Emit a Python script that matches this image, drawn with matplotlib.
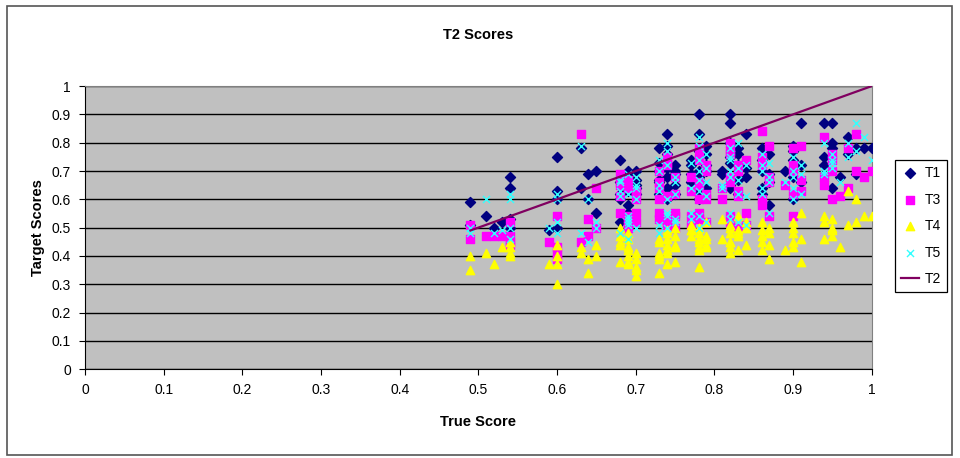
import matplotlib
matplotlib.use("Agg")
import matplotlib.pyplot as plt
from matplotlib.patches import Rectangle

plt.rcParams['font.family'] = ['Liberation Sans', 'DejaVu Sans']

# one row per subject: true score and the four target scores
true_score = [
    0.49, 0.49, 0.51, 0.52, 0.53, 0.54, 0.54, 0.54, 0.54,
    0.60, 0.60, 0.60, 0.59, 0.60,
    0.63, 0.64, 0.65, 0.64, 0.65, 0.63,
    0.68, 0.69, 0.70, 0.68, 0.69, 0.70, 0.69, 0.68, 0.70, 0.69,
    0.69, 0.70, 0.68, 0.69, 0.70, 0.69, 0.68,
    0.74, 0.74, 0.73, 0.73, 0.75, 0.73, 0.75, 0.74, 0.74, 0.75, 0.73,
    0.74, 0.75, 0.73, 0.74, 0.75, 0.74, 0.73,
    0.78, 0.78, 0.79, 0.77, 0.78, 0.79, 0.78, 0.77, 0.79, 0.78,
    0.78, 0.79, 0.78, 0.77, 0.79, 0.78, 0.77,
    0.82, 0.82, 0.84, 0.83, 0.82, 0.83, 0.81, 0.84, 0.82, 0.83,
    0.82, 0.83, 0.82, 0.81, 0.83, 0.82, 0.84,
    0.86, 0.87, 0.86, 0.87, 0.86, 0.87, 0.86, 0.87, 0.86,
    0.91, 0.90, 0.90, 0.89, 0.91, 0.90, 0.90, 0.91, 0.90,
    0.94, 0.95, 0.95, 0.94, 0.96, 0.95, 0.95, 0.94,
    0.97, 0.98, 0.97, 0.99, 0.98, 1.00,
]
t1 = [
    0.59, 0.51, 0.54, 0.50, 0.52, 0.68, 0.64, 0.53, 0.50,
    0.75, 0.63, 0.60, 0.49, 0.50,
    0.78, 0.69, 0.70, 0.60, 0.55, 0.64,
    0.74, 0.69, 0.70, 0.60, 0.55, 0.64, 0.66, 0.52, 0.62, 0.68,
    0.70, 0.65, 0.62, 0.58, 0.67, 0.63, 0.66,
    0.83, 0.79, 0.78, 0.73, 0.70, 0.70, 0.65, 0.60, 0.68, 0.62, 0.66,
    0.76, 0.72, 0.67, 0.64, 0.69, 0.71, 0.62,
    0.90, 0.83, 0.79, 0.74, 0.70, 0.76, 0.67, 0.72, 0.64, 0.60,
    0.77, 0.72, 0.68, 0.66, 0.70, 0.63, 0.69,
    0.90, 0.87, 0.83, 0.78, 0.75, 0.72, 0.70, 0.68, 0.65, 0.62,
    0.80, 0.76, 0.73, 0.69, 0.67, 0.64, 0.71,
    0.78, 0.76, 0.70, 0.66, 0.62, 0.58, 0.74, 0.69, 0.64,
    0.87, 0.79, 0.74, 0.70, 0.66, 0.60, 0.77, 0.72, 0.68,
    0.87, 0.87, 0.78, 0.72, 0.68, 0.64, 0.80, 0.75,
    0.82, 0.78, 0.76, 0.78, 0.69, 0.78,
]
t3 = [
    0.51, 0.46, 0.47, 0.47, 0.47, 0.52, 0.47, 0.45, 0.44,
    0.54, 0.41, 0.39, 0.45, 0.43,
    0.83, 0.53, 0.64, 0.47, 0.50, 0.45,
    0.69, 0.64, 0.60, 0.66, 0.54, 0.52, 0.50, 0.55, 0.62, 0.51,
    0.67, 0.63, 0.61, 0.53, 0.55, 0.50, 0.65,
    0.75, 0.72, 0.70, 0.66, 0.62, 0.60, 0.54, 0.52, 0.53, 0.50, 0.55,
    0.73, 0.68, 0.64, 0.61, 0.55, 0.51, 0.53,
    0.78, 0.75, 0.72, 0.68, 0.65, 0.62, 0.60, 0.54, 0.52, 0.55,
    0.74, 0.70, 0.66, 0.63, 0.60, 0.53, 0.51,
    0.80, 0.77, 0.74, 0.70, 0.66, 0.63, 0.60, 0.55, 0.52, 0.50,
    0.76, 0.72, 0.68, 0.64, 0.61, 0.54, 0.51,
    0.84, 0.79, 0.72, 0.68, 0.60, 0.54, 0.75, 0.66, 0.58,
    0.79, 0.78, 0.70, 0.65, 0.63, 0.54, 0.72, 0.67, 0.62,
    0.82, 0.74, 0.70, 0.65, 0.61, 0.60, 0.76, 0.68,
    0.78, 0.83, 0.64, 0.68, 0.70, 0.70,
]
t4 = [
    0.40, 0.35, 0.41, 0.37, 0.43, 0.43, 0.41, 0.45, 0.40,
    0.44, 0.37, 0.30, 0.37, 0.40,
    0.41, 0.34, 0.40, 0.39, 0.44, 0.43,
    0.45, 0.40, 0.36, 0.50, 0.38, 0.33, 0.43, 0.47, 0.35, 0.42,
    0.46, 0.39, 0.44, 0.37, 0.41, 0.48, 0.38,
    0.48, 0.44, 0.41, 0.34, 0.38, 0.45, 0.50, 0.37, 0.42, 0.47, 0.40,
    0.46, 0.43, 0.39, 0.49, 0.44, 0.41, 0.46,
    0.50, 0.46, 0.43, 0.49, 0.36, 0.52, 0.45, 0.47, 0.44, 0.48,
    0.50, 0.46, 0.43, 0.51, 0.47, 0.42, 0.49,
    0.48, 0.45, 0.52, 0.42, 0.50, 0.54, 0.46, 0.44, 0.41, 0.49,
    0.51, 0.47, 0.43, 0.53, 0.48, 0.45, 0.50,
    0.52, 0.48, 0.45, 0.39, 0.42, 0.50, 0.47, 0.44, 0.49,
    0.55, 0.50, 0.45, 0.42, 0.38, 0.48, 0.52, 0.46, 0.43,
    0.54, 0.50, 0.47, 0.52, 0.43, 0.49, 0.53, 0.46,
    0.63, 0.60, 0.51, 0.54, 0.52, 0.54,
]
t5 = [
    0.50, 0.48, 0.60, 0.48, 0.49, 0.62, 0.60, 0.50, 0.46,
    0.62, 0.60, 0.52, 0.50, 0.48,
    0.79, 0.60, 0.50, 0.45, 0.52, 0.48,
    0.66, 0.62, 0.68, 0.63, 0.53, 0.65, 0.51, 0.48, 0.60, 0.46,
    0.69, 0.64, 0.61, 0.52, 0.50, 0.54, 0.67,
    0.80, 0.77, 0.74, 0.70, 0.68, 0.65, 0.62, 0.54, 0.50, 0.52, 0.48,
    0.72, 0.66, 0.63, 0.60, 0.53, 0.55, 0.51,
    0.82, 0.79, 0.76, 0.73, 0.70, 0.66, 0.63, 0.55, 0.52, 0.50,
    0.74, 0.71, 0.67, 0.64, 0.61, 0.54, 0.53,
    0.78, 0.75, 0.72, 0.80, 0.70, 0.67, 0.64, 0.61, 0.55, 0.52,
    0.74, 0.71, 0.68, 0.65, 0.62, 0.53, 0.51,
    0.76, 0.73, 0.70, 0.66, 0.64, 0.55, 0.72, 0.68, 0.62,
    0.72, 0.75, 0.68, 0.66, 0.62, 0.60, 0.70, 0.69, 0.64,
    0.80, 0.76, 0.73, 0.69, 0.66, 0.71, 0.74, 0.70,
    0.80, 0.87, 0.75, 0.82, 0.77, 0.74,
]
# T2 is the true score itself
t2_x = sorted(true_score)
t2_y = sorted(true_score)

fig = plt.figure(figsize=(9.6, 4.58), dpi=100)
fig.patches.append(Rectangle((0.007, 0.007), 0.985, 0.98, transform=fig.transFigure,
                             fill=False, edgecolor='#555555', linewidth=1.2))
ax = fig.add_axes([0.0885, 0.194, 0.8195, 0.618])
ax.set_facecolor('#c0c0c0')

ax.scatter(true_score, t1, marker='D', s=26, color='#000080', label='T1', zorder=3)
ax.scatter(true_score, t3, marker='s', s=28, color='#ff00ff', label='T3', zorder=3)
ax.scatter(true_score, t4, marker='^', s=36, color='#ffff00', label='T4', zorder=3)
ax.scatter(true_score, t5, marker='x', s=26, color='#33ffff', linewidths=1.0, label='T5', zorder=3)
ax.plot(t2_x, t2_y, color='#800060', linewidth=1.6, label='T2', zorder=4)

ax.set_xlim(0, 1)
ax.set_ylim(0, 1)
ax.set_xticks([i / 10 for i in range(11)])
ax.set_yticks([i / 10 for i in range(11)])
ax.set_xticklabels(['0', '0.1', '0.2', '0.3', '0.4', '0.5', '0.6', '0.7', '0.8', '0.9', '1'])
ax.set_yticklabels(['0', '0.1', '0.2', '0.3', '0.4', '0.5', '0.6', '0.7', '0.8', '0.9', '1'])
ax.tick_params(direction='out', length=4, labelsize=10, width=0.8, pad=6)
ax.grid(axis='y', color='black', linewidth=1.0)
ax.set_axisbelow(True)
for side in ['top', 'right']:
    ax.spines[side].set_color('#808080')
for side in ['left', 'bottom']:
    ax.spines[side].set_color('black')

fig.text(0.498, 0.924, 'T2 Scores', ha='center', va='center', fontsize=10.5,
         fontweight='bold')
ax.set_xlabel('True Score', fontsize=10.5, fontweight='bold', labelpad=13)
ax.set_ylabel('Target Scores', fontsize=10.5, fontweight='bold', labelpad=5)

leg = fig.legend(loc='upper left', bbox_to_anchor=(0.932, 0.651), borderaxespad=0,
                 fontsize=10, frameon=True, fancybox=False, edgecolor='black',
                 framealpha=1, handlelength=1.3, labelspacing=0.9, borderpad=0.45,
                 handletextpad=0.4)
leg.get_frame().set_linewidth(0.9)

fig.savefig('out.png', dpi=100)
